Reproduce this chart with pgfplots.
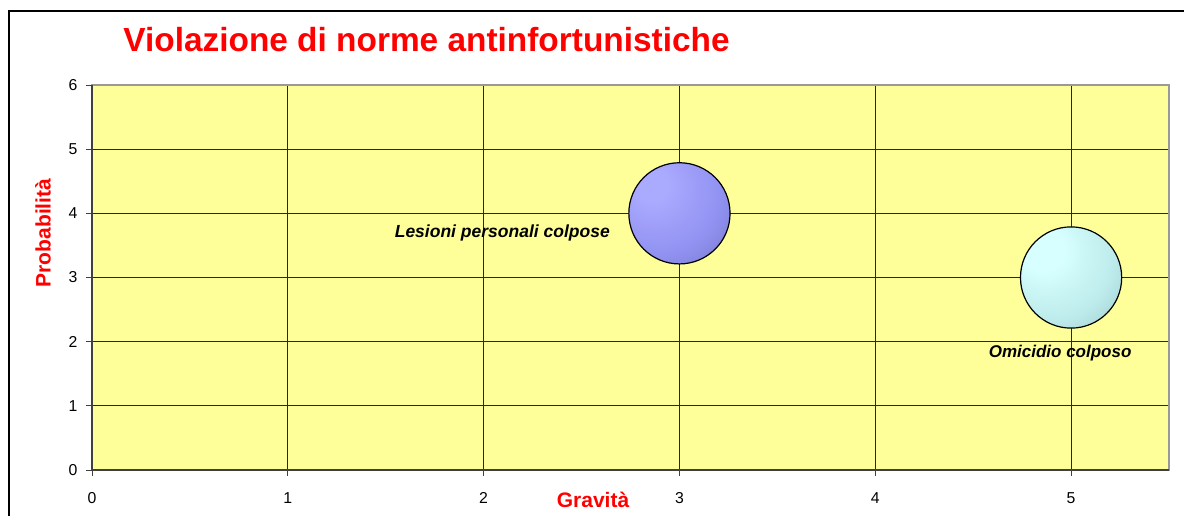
\documentclass[border=0pt]{standalone}
\usepackage{pgfplots}
\pgfplotsset{compat=1.18}
\usepackage{fontspec}
\setmainfont{Liberation Sans}
\definecolor{plotbg}{RGB}{255,255,153}
\definecolor{bA1}{RGB}{170,170,255}
\definecolor{bA2}{RGB}{146,146,242}
\definecolor{bA3}{RGB}{88,88,162}
\definecolor{bB1}{RGB}{215,255,255}
\definecolor{bB2}{RGB}{188,234,234}
\definecolor{bB3}{RGB}{112,160,160}
\pgfdeclareradialshading{bubA}{\pgfpoint{-15bp}{15bp}}{color(0bp)=(bA1); color(8bp)=(bA1); color(30bp)=(bA2); color(68bp)=(bA3); color(100bp)=(bA3)}
\pgfdeclareradialshading{bubB}{\pgfpoint{-15bp}{15bp}}{color(0bp)=(bB1); color(10bp)=(bB1); color(32bp)=(bB2); color(68bp)=(bB3); color(100bp)=(bB3)}
\pgfdeclareplotmark{bubblA}{%
  \pgfpathcircle{\pgfpointorigin}{\pgfplotmarksize}%
  \pgfshadepath{bubA}{0}%
  \pgfusepath{stroke}}
\pgfdeclareplotmark{bubblB}{%
  \pgfpathcircle{\pgfpointorigin}{\pgfplotmarksize}%
  \pgfshadepath{bubB}{0}%
  \pgfusepath{stroke}}
\begin{document}
\begin{tikzpicture}
\useasboundingbox (0,0) rectangle (592pt,257.5pt);
\draw[black, line width=0.65pt] (4.5pt,-1pt) -- (4.5pt,252pt) -- (593pt,252pt);
\node[anchor=base west, inner sep=0pt, text=red, font=\fontsize{16.7}{20}\selectfont\bfseries] at (61.5pt,231.6pt) {Violazione di norme antinfortunistiche};
\node[text=red, font=\fontsize{10.5}{12}\selectfont\bfseries, inner sep=0pt] at (296.5pt,7.5pt) {Gravità};
\node[text=red, font=\fontsize{10.5}{12}\selectfont\bfseries, inner sep=0pt, rotate=90] at (21.5pt,141pt) {Probabilità};
\begin{axis}[
  at={(46pt,22.5pt)}, anchor=south west,
  scale only axis, width=538.5pt, height=192.5pt,
  xmin=0, xmax=5.5, ymin=0, ymax=6,
  xtick={0,1,2,3,4,5}, ytick={0,1,2,3,4,5,6},
  axis background/.style={fill=plotbg},
  axis line style={draw=black!40, line width=0.65pt},
  grid=major,
  major grid style={draw=black!85, line width=0.45pt},
  tick align=outside, tick pos=left,
  major tick length=2.8pt,
  tick style={draw=black!75, line width=0.45pt},
  /pgf/number format/assume math mode=true,
  tick label style={font=\fontsize{7.9}{9}\selectfont},
  xticklabel style={yshift=-5pt},
  yticklabel style={xshift=-1pt},
  clip=false,
]
\draw[black!75, line width=0.6pt] (rel axis cs:0,1) -- (rel axis cs:0,0) -- (rel axis cs:1,0);
\addplot[only marks, mark=bubblA, mark size=25.3pt, mark options={draw=black, line width=0.6pt}] coordinates {(3,4)};
\addplot[only marks, mark=bubblB, mark size=25.3pt, mark options={draw=black, line width=0.6pt}] coordinates {(5,3)};
\node[anchor=east, inner sep=0pt, font=\fontsize{8.75}{10}\selectfont\bfseries\itshape] at (axis cs:2.646,3.693) {Lesioni personali colpose};
\node[inner sep=0pt, font=\fontsize{8.5}{10}\selectfont\bfseries\itshape] at (axis cs:4.944,1.823) {Omicidio colposo};
\end{axis}
\end{tikzpicture}
\end{document}
